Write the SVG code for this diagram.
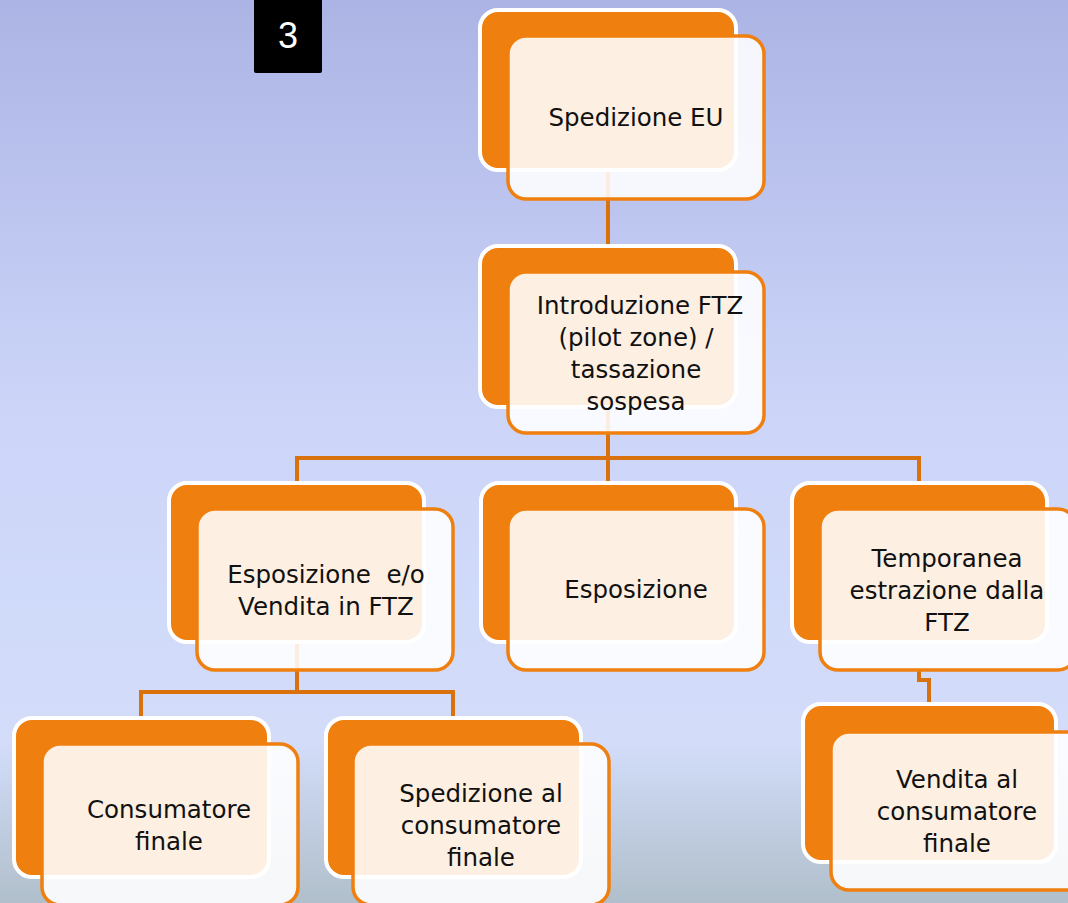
<svg xmlns="http://www.w3.org/2000/svg" width="1068" height="903" viewBox="0 0 1068 903">
<defs>
<linearGradient id="bg" x1="0" y1="0" x2="0" y2="1">
<stop offset="0" stop-color="#acb4e5"/>
<stop offset="0.45" stop-color="#ccd5f8"/>
<stop offset="0.82" stop-color="#d3ddfa"/>
<stop offset="1" stop-color="#b0bfcb"/>
</linearGradient>
<style>
.back{fill:#ef7f0e;stroke:#ffffff;stroke-width:4}
.front{fill:#ffffff;fill-opacity:0.88;stroke:#ef7f0e;stroke-width:3.5}
.conn{fill:none;stroke:#d9720c;stroke-width:4}
.t{font-family:"DejaVu Sans","Liberation Sans",sans-serif;font-size:24.5px;fill:#111111;text-anchor:middle;white-space:pre}
</style>
</defs>
<rect x="0" y="0" width="1068" height="903" fill="url(#bg)"/>
<g id="badge">
<rect x="254" y="-4" width="68" height="77" rx="2" fill="#000000"/>
<text x="288" y="48" font-family="Liberation Sans, sans-serif" font-size="36" fill="#ffffff" text-anchor="middle">3</text>
</g>
<g id="connectors">
<path class="conn" d="M608,170 V245"/>
<path class="conn" d="M608,408 V482 M297,482 V458 H919 V482"/>
<path class="conn" d="M297,642 V692 M141,717 V692 H453 V717"/>
<path class="conn" d="M919,670 V680 H929 V703"/>
</g>
<g id="n1">
<rect class="back" x="480" y="10" width="256" height="160" rx="18"/>
<rect class="front" x="508" y="36" width="256" height="163" rx="18"/>
<text class="t" x="636" y="126">Spedizione EU</text>
</g>
<g id="n2">
<rect class="back" x="480" y="246" width="256" height="161" rx="18"/>
<rect class="front" x="508" y="272" width="256" height="161" rx="18"/>
<text class="t" x="640" y="314">Introduzione FTZ</text>
<text class="t" x="636" y="346">(pilot zone) /</text>
<text class="t" x="636" y="378">tassazione</text>
<text class="t" x="636" y="410">sospesa</text>
</g>
<g id="n3">
<rect class="back" x="169" y="483" width="255" height="159" rx="18"/>
<rect class="front" x="197" y="509" width="256" height="161" rx="18"/>
<text class="t" x="326" y="583" xml:space="preserve">Esposizione  e/o</text>
<text class="t" x="326" y="615">Vendita in FTZ</text>
</g>
<g id="n4">
<rect class="back" x="481" y="483" width="255" height="159" rx="18"/>
<rect class="front" x="508" y="509" width="256" height="161" rx="18"/>
<text class="t" x="636" y="598">Esposizione</text>
</g>
<g id="n5">
<rect class="back" x="792" y="483" width="255" height="159" rx="18"/>
<rect class="front" x="820" y="509" width="256" height="161" rx="18"/>
<text class="t" x="947" y="567">Temporanea</text>
<text class="t" x="947" y="599">estrazione dalla</text>
<text class="t" x="947" y="631">FTZ</text>
</g>
<g id="n6">
<rect class="back" x="14" y="718" width="255" height="159" rx="18"/>
<rect class="front" x="42" y="744" width="256" height="161" rx="18"/>
<text class="t" x="169" y="818">Consumatore</text>
<text class="t" x="169" y="850">finale</text>
</g>
<g id="n7">
<rect class="back" x="326" y="718" width="255" height="159" rx="18"/>
<rect class="front" x="353" y="744" width="256" height="161" rx="18"/>
<text class="t" x="481" y="802">Spedizione al</text>
<text class="t" x="481" y="834">consumatore</text>
<text class="t" x="481" y="866">finale</text>
</g>
<g id="n8">
<rect class="back" x="803" y="704" width="253" height="158" rx="18"/>
<rect class="front" x="831" y="732" width="256" height="158" rx="18"/>
<text class="t" x="957" y="788">Vendita al</text>
<text class="t" x="957" y="820">consumatore</text>
<text class="t" x="957" y="852">finale</text>
</g>
</svg>
